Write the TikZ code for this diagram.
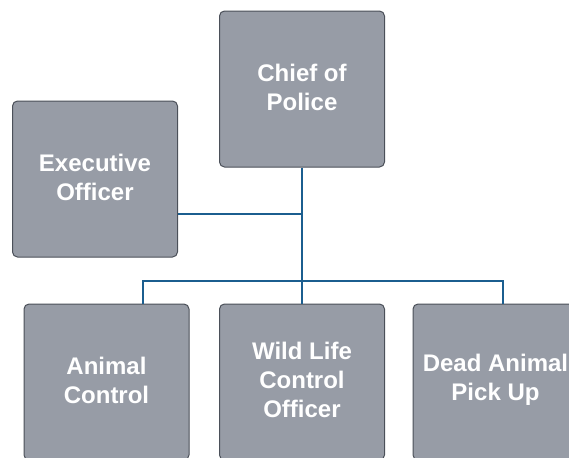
\documentclass[tikz,border=0pt]{standalone}
\usepackage{fontspec}
\setmainfont{Liberation Sans}
\definecolor{boxfill}{HTML}{979CA6}
\definecolor{boxedge}{HTML}{4B5059}
\definecolor{linkblue}{HTML}{1B5E8F}
\tikzset{
  orgbox/.style={draw=boxedge, fill=boxfill, line width=0.75pt, rounded corners=3.75pt,
    minimum width=123.75pt, minimum height=117pt, inner sep=0pt, align=center,
    text=white, font=\bfseries\fontsize{18}{21.75}\selectfont},
  orglink/.style={draw=linkblue, line width=1.3pt}
}
\begin{document}
\begin{tikzpicture}[x=0.75pt, y=-0.75pt]
    \useasboundingbox (0,0) rectangle (569,458);
    \clip (0,0) rectangle (569,458);
    % TOP
    \node[orgbox] (chief) at (302,89) {Chief of\\Police\vspace{3pt}};
    \node[orgbox] (exec) at (95,179) {Executive\\Officer\vspace{3pt}};
    % BOTTOM ROW
    \node[orgbox] (animal) at (106.5,382) {Animal\\Control\vspace{3pt}};
    \node[orgbox] (wild) at (302,382) {Wild Life\\Control\\Officer\vspace{3pt}};
    \node[orgbox] (dead) at (495.5,382) {Dead Animal\\Pick Up\vspace{3pt}};
    % LINKS
    \coordinate (ejoin) at (302,214);
    \coordinate (busL) at (143,281);
    \coordinate (busR) at (503,281);
    \draw[orglink] (chief.south) -- (wild.north);
    \draw[orglink] (exec.east |- ejoin) -- (ejoin);
    \draw[orglink] (animal.north -| busL) |- (busR) -- (dead.north -| busR);
\end{tikzpicture}
\end{document}
